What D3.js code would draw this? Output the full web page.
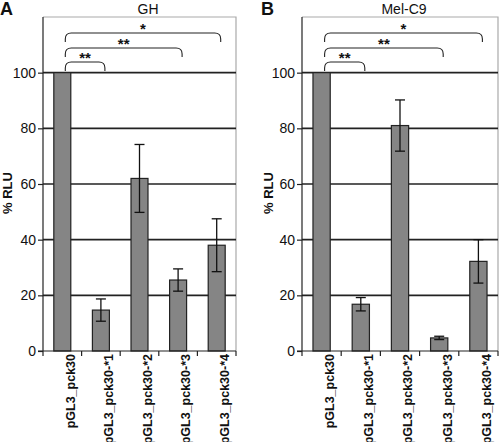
<!DOCTYPE html>
<html><head><meta charset="utf-8">
<script src="https://cdn.jsdelivr.net/npm/d3@7/dist/d3.min.js"></script>
<style>body{margin:0;background:#fff}svg{display:block;font-family:"Liberation Sans",Arial,sans-serif}</style>
</head><body><svg id="c" width="500" height="442"></svg>
<script>
const categories = ["pGL3_pck30","pGL3_pck30-*1","pGL3_pck30-*2","pGL3_pck30-*3","pGL3_pck30-*4"];
const yTicks = [0,20,40,60,80,100];
const ghValues = [100, 14.7, 62, 25.5, 38];
const ghErrors = [0, 4, 12.2, 4, 9.5];
const melValues = [100, 16.8, 81, 4.7, 32.2];
const melErrors = [0, 2.4, 9.2, 0.6, 7.8];
const sigFrom = [0, 0, 0];
const sigTo = [1, 3, 4];
const sigLabels = ["**", "**", "*"];

const panels = [
  {letter:"A", title:"GH", values:ghValues, errors:ghErrors, left:43, right:236, titleX:148, letterX:0, ylabX:7},
  {letter:"B", title:"Mel-C9", values:melValues, errors:melErrors, left:302, right:498, titleX:404, letterX:261, ylabX:268}
];
const svg = d3.select("#c");
const plotTop = 17, plotBottom = 351;

panels.forEach(p => {
  const g = svg.append("g");
  const x = d3.scaleBand().domain(categories).range([p.left, p.right]).paddingInner(0.56).paddingOuter(0.28);
  const y = d3.scaleLinear().domain([0,120]).range([plotBottom, plotTop]);
  g.append("path").attr("d", `M${p.left},${plotTop}H${p.right}V${plotBottom}`).attr("fill","none").attr("stroke","#aaa").attr("stroke-width",1.2);
  g.selectAll(".grid").data(yTicks.filter(d=>d>0)).join("line")
    .attr("x1",p.left).attr("x2",p.right).attr("y1",d=>y(d)).attr("y2",d=>y(d))
    .attr("stroke","#222").attr("stroke-width",1.6);
  g.selectAll(".bar").data(categories).join("rect")
    .attr("x",d=>x(d)).attr("width",x.bandwidth())
    .attr("y",(d,i)=>y(p.values[i])).attr("height",(d,i)=>y(0)-y(p.values[i]))
    .attr("fill","#858585").attr("stroke","#222").attr("stroke-width",1.2);
  categories.forEach((c,i)=>{
    const e = p.errors[i]; if(!e) return;
    const cx = x(c)+x.bandwidth()/2, hw = 5;
    const eg = g.append("g").attr("stroke","#111").attr("stroke-width",1.3);
    eg.append("line").attr("x1",cx).attr("x2",cx).attr("y1",y(p.values[i]+e)).attr("y2",y(p.values[i]-e));
    eg.append("line").attr("x1",cx-hw).attr("x2",cx+hw).attr("y1",y(p.values[i]+e)).attr("y2",y(p.values[i]+e));
    eg.append("line").attr("x1",cx-hw).attr("x2",cx+hw).attr("y1",y(p.values[i]-e)).attr("y2",y(p.values[i]-e));
  });
  const ya = g.append("g").attr("transform",`translate(${p.left},0)`)
    .call(d3.axisLeft(y).tickValues(yTicks).tickSize(5).tickPadding(2).tickSizeOuter(0));
  ya.select(".domain").attr("d",`M0,${plotBottom}V${plotTop}`).attr("stroke","#222").attr("stroke-width",1.2);
  ya.selectAll(".tick line").attr("stroke","#222").attr("stroke-width",1.2);
  ya.selectAll(".tick text").attr("font-size",14).attr("fill","#111").style("font-family","Liberation Sans, Arial, sans-serif");
  g.append("line").attr("x1",p.left-5).attr("x2",p.right).attr("y1",plotBottom).attr("y2",plotBottom).attr("stroke","#222").attr("stroke-width",1.2);
  const bounds = categories.map(c=>x(c)-x.step()*x.paddingInner()/2);
  bounds[0] = p.left; bounds.push(p.right);
  g.selectAll(".xt").data(bounds).join("line")
    .attr("x1",d=>d).attr("x2",d=>d).attr("y1",plotBottom).attr("y2",plotBottom+5).attr("stroke","#222").attr("stroke-width",1.2);
  g.selectAll(".xl").data(categories).join("text")
    .attr("transform",d=>`translate(${x(d)+x.bandwidth()/2+8},${plotBottom+3}) rotate(-90)`)
    .attr("text-anchor","end").attr("dy","0.35em").attr("font-size",12.5).attr("font-weight","bold").attr("fill","#111")
    .text(d=>d);
  g.append("text").attr("transform",`translate(${p.ylabX},193) rotate(-90)`).attr("text-anchor","middle").attr("dy","0.35em")
    .attr("font-size",13).attr("font-weight","bold").attr("fill","#111").text("% RLU");
  g.append("text").attr("x",p.titleX).attr("y",14).attr("text-anchor","middle").attr("font-size",14).attr("fill","#111").text(p.title);
  g.append("text").attr("x",p.letterX).attr("y",15).attr("font-size",18).attr("font-weight","bold").attr("fill","#111").text(p.letter);
  const levels = [62, 48, 33];
  sigFrom.forEach((f,k)=>{
    const x1 = x(categories[f])+x.bandwidth()/2+3, x2 = x(categories[sigTo[k]])+x.bandwidth()/2+4;
    const yt = levels[k], yb = yt+9, r = 6;
    g.append("path").attr("d",`M${x1},${yb}V${yt+r}Q${x1},${yt} ${x1+r},${yt}H${x2-r}Q${x2},${yt} ${x2},${yt+r}V${yb}`)
      .attr("fill","none").attr("stroke","#222").attr("stroke-width",1.1);
    g.append("text").attr("x",(x1+x2)/2).attr("y",yt+1).attr("text-anchor","middle").attr("font-size",15).attr("font-weight","bold").attr("fill","#111").text(sigLabels[k]);
  });
});
</script></body></html>
